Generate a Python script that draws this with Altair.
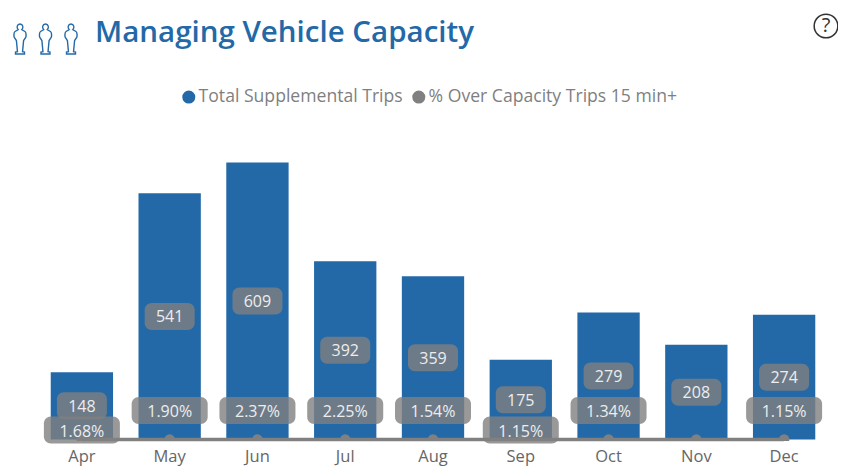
import altair as alt
import pandas as pd

months = ["Apr", "May", "Jun", "Jul", "Aug", "Sep", "Oct", "Nov", "Dec"]
trips = [148, 541, 609, 392, 359, 175, 279, 208, 274]
pct_over = [0.0168, 0.0190, 0.0237, 0.0225, 0.0154, 0.0115, 0.0134, 0.0116, 0.0115]
low_label_months = ["Apr", "Sep"]
hidden_label_months = ["Nov"]
series_names = ["Total Supplemental Trips", "% Over Capacity Trips 15 min+"]
series_colors = ["#2369A8", "#808080"]
title_text = "Managing Vehicle Capacity"

FONT = "Open Sans"
PERSON = ("M-0.12,-0.62 C-0.25,-0.75 -0.2,-1 0,-1 C0.2,-1 0.25,-0.75 0.12,-0.62 "
          "L0.33,-0.5 C0.42,-0.45 0.42,-0.2 0.38,-0.1 L0.24,0.1 L0.17,0.85 L0.3,0.87 L0.3,1 "
          "L-0.3,1 L-0.3,0.87 L-0.17,0.85 L-0.24,0.1 L-0.38,-0.1 C-0.42,-0.2 -0.42,-0.45 -0.33,-0.5 Z")

df = pd.DataFrame({"month": months, "trips": trips, "pct": pct_over})
df["mid"] = df["trips"] / 2

x = alt.X("month:N", sort=months, title=None,
          scale=alt.Scale(paddingInner=0.29, paddingOuter=0.145),
          axis=alt.Axis(labelAngle=0, domain=False, ticks=False, labelFont=FONT,
                        labelFontSize=16.5, labelColor="#666666", labelPadding=7.5))
yscale = alt.Scale(domain=[-3.3, 702.2], nice=False, zero=False)
color = alt.Color("s:N", title=None, scale=alt.Scale(domain=series_names, range=series_colors),
                  legend=alt.Legend(orient="none", legendX=142, legendY=-32, direction="horizontal",
                                    symbolType="circle", symbolSize=170, symbolOpacity=1,
                                    symbolStrokeWidth=0, labelFont=FONT, labelFontSize=17.6,
                                    labelColor="#7F7F7F", columnPadding=7, labelOffset=1,
                                    labelLimit=400))

base = alt.Chart(df).encode(x=x)

bars = base.mark_bar().transform_calculate(s="'%s'" % series_names[0]).encode(
    y=alt.Y("trips:Q", scale=yscale, axis=None, title=None), color=color)
line = base.mark_line(strokeWidth=3.5).transform_calculate(s="'%s'" % series_names[1]).encode(
    y=alt.Y("pct:Q", scale=yscale, axis=None), color=color)
dots = base.mark_circle(size=110, color="#808080", opacity=1, clip=True).encode(
    y=alt.Y("pct:Q", scale=yscale, axis=None))

box_style = dict(color="#808080", opacity=0.8, cornerRadius=7, height=27)
txt_style = dict(font=FONT, fontSize=16, color="#EDEDED", align="center", baseline="middle")

trip_box = base.mark_rect(width=50, **box_style).encode(y=alt.Y("mid:Q", scale=yscale, axis=None))
trip_txt = base.mark_text(yOffset=1, **txt_style).encode(y=alt.Y("mid:Q", scale=yscale, axis=None), text="trips:Q")

is_low = alt.FieldOneOfPredicate(field="month", oneOf=low_label_months)
is_shown = alt.FieldOneOfPredicate(field="month", oneOf=[m for m in months if m not in hidden_label_months + low_label_months])

def pct_layers(pred, box_off, txt_off):
    b = base.transform_filter(pred).mark_rect(width=76, yOffset=box_off, **box_style).encode(
        y=alt.Y("pct:Q", scale=yscale, axis=None))
    t = base.transform_filter(pred).mark_text(yOffset=txt_off, **txt_style).encode(
        y=alt.Y("pct:Q", scale=yscale, axis=None), text=alt.Text("pct:Q", format=".2%"))
    return [b, t]

one = pd.DataFrame({"n": [1]})
icons = [alt.Chart(one).mark_point(shape=PERSON, size=900, filled=False, stroke="#2369A8",
                                   strokeWidth=1.4, opacity=1).encode(
            x=alt.value(v), y=alt.value(-81)) for v in (-18, 7.5, 33)]
help_ring = alt.Chart(one).mark_point(shape="circle", size=560, filled=False, stroke="#333333",
                                      strokeWidth=1.5, opacity=1).encode(
            x=alt.value(788), y=alt.value(-94))
help_txt = alt.Chart(one).mark_text(text="?", font=FONT, fontSize=20, color="#333333",
                                    align="center", baseline="middle").encode(
            x=alt.value(788), y=alt.value(-94))
title_mark = alt.Chart(one).mark_text(text=title_text, font=FONT, fontSize=29.5, fontWeight=600,
                                      color="#2369A8", align="left", baseline="alphabetic").encode(
            x=alt.value(57), y=alt.value(-78))

chart = alt.layer(
    bars, line, dots, trip_box, trip_txt,
    *pct_layers(is_shown, -29, -27), *pct_layers(is_low, -9.5, -7),
    *icons, title_mark, help_ring, help_txt,
).properties(
    width=790, height=321,
    autosize=alt.AutoSizeParams(type="none"),
    padding={"left": 30, "top": 112, "right": 10, "bottom": 26},
).configure_view(stroke=None)

chart.save("out.html", embed_options={"renderer": "svg", "actions": False})
